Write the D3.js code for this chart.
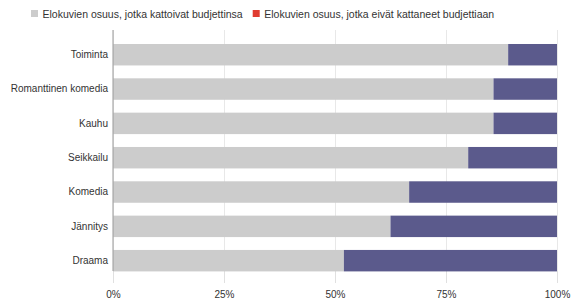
<!DOCTYPE html>
<html>
<head>
<meta charset="utf-8">
<script src="https://cdn.jsdelivr.net/npm/d3@7"></script>
<style>
  body { margin: 0; background: #fff; font-family: "Liberation Sans", Arial, sans-serif; }
  .grid line { stroke: #e8e8e8; }
  .grid path { display: none; }
</style>
</head>
<body>
<div id="chart"></div>
<script>
const categories = ['Toiminta', 'Romanttinen komedia', 'Kauhu', 'Seikkailu', 'Komedia', 'Jännitys', 'Draama'];
const coveredShare = [0.89, 0.857, 0.857, 0.80, 0.667, 0.625, 0.52];
const seriesNames = ['Elokuvien osuus, jotka kattoivat budjettinsa', 'Elokuvien osuus, jotka eivät kattaneet budjettiaan'];
const xTicks = [0, 0.25, 0.5, 0.75, 1];

const W = 571, H = 299;
const margin = { top: 30, right: 14, bottom: 16, left: 113 };
const plotW = W - margin.left - margin.right;
const plotH = H - margin.top - margin.bottom;

const svg = d3.select('#chart').append('svg').attr('width', W).attr('height', H);
const g = svg.append('g').attr('transform', `translate(${margin.left},${margin.top})`);

const x = d3.scaleLinear().domain([0, 1]).range([0, plotW]);
const y = d3.scaleBand().domain(categories).range([3.7, 251.7]).paddingInner(0.375).paddingOuter(0.3);

// grid
g.append('g').attr('class', 'grid')
  .attr('transform', `translate(0,${plotH})`)
  .call(d3.axisBottom(x).tickValues(xTicks).tickSize(plotH + 0).tickFormat(''))
  .call(s => s.selectAll('line').attr('y1', 0).attr('y2', -plotH))
  .call(s => s.selectAll('.tick line').attr('stroke', '#e8e8e8'));

// tick marks + labels
const xa = g.append('g').attr('transform', `translate(0,${plotH - 12})`)
  .call(d3.axisBottom(x).tickValues(xTicks).tickSize(12).tickFormat(d3.format('.0%')));
xa.select('.domain').remove();
xa.selectAll('.tick line').attr('stroke', '#e0e0e0');
xa.selectAll('text').attr('fill', '#333').attr('font-size', '10px').attr('dy', '1.2em')
  .attr('font-family', '"Liberation Sans", Arial, sans-serif');

// bars
const rows = categories.map((c, i) => ({ cat: c, a: coveredShare[i] }));
g.selectAll('.bar-a').data(rows).enter().append('rect')
  .attr('x', x(0)).attr('y', d => y(d.cat))
  .attr('width', d => x(d.a) - x(0)).attr('height', y.bandwidth())
  .attr('fill', '#cccccc');
g.selectAll('.bar-b').data(rows).enter().append('rect')
  .attr('x', d => x(d.a)).attr('y', d => y(d.cat))
  .attr('width', d => x(1) - x(d.a)).attr('height', y.bandwidth())
  .attr('fill', '#5b5a8c');

// y axis
const ya = g.append('g').call(d3.axisLeft(y).tickSize(0).tickPadding(5));
ya.select('.domain').attr('stroke', '#999').attr('d', `M0,0V${plotH - 12}`);
ya.selectAll('text').attr('fill', '#333').attr('font-size', '10px')
  .attr('font-family', '"Liberation Sans", Arial, sans-serif');

// legend
const legendColors = ['#cccccc', '#e03c31'];
let lx = 31;
seriesNames.forEach((name, i) => {
  const lg = svg.append('g').attr('transform', `translate(${lx},0)`);
  lg.append('rect').attr('x', 0).attr('y', 10).attr('width', 7).attr('height', 7).attr('fill', legendColors[i]);
  const t = lg.append('text').attr('x', 11.5).attr('y', 17.5).attr('font-size', '10.5px').attr('fill', '#333')
    .text(name);
  lx += 11.5 + t.node().getComputedTextLength() + 10;
});
</script>
</body>
</html>
